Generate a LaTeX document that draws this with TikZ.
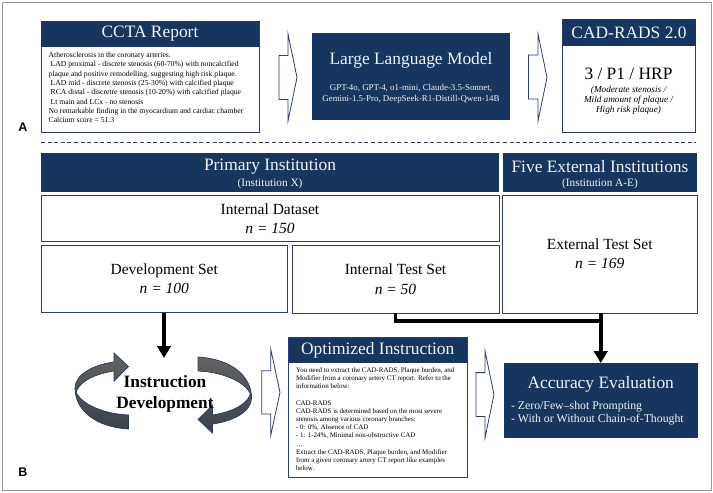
\documentclass[tikz,border=0pt]{standalone}
\usepackage{fontspec}
\setmainfont{Liberation Serif}
\newfontfamily\labelfont{Liberation Sans}
\usetikzlibrary{arrows.meta}
\definecolor{navy}{HTML}{17365F}
\definecolor{edgeblue}{HTML}{2E3A70}
\definecolor{headtext}{HTML}{F0F3F7}
\definecolor{loopedge}{HTML}{2B3A5C}
\definecolor{looplight}{HTML}{636363}
\definecolor{loopdark}{HTML}{3B424C}
\newcommand{\fs}[2]{\fontsize{#1}{#2}\selectfont}
\newcommand{\blockarrow}[7]{% x0 xhead xtip ytop yshaft1 yshaft2 ybottom
  \draw[blockarrowstyle] (#1,#5) -- (#2,#5) -- (#2,#4) -- (#3,{(#4+#7)/2}) -- (#2,#7) -- (#2,#6) -- (#1,#6) -- cycle;}
\newcommand{\looparrow}{%
  (128.5,429) .. controls (95,427) and (75,410) .. (75,388)
  .. controls (75,375) and (92,365) .. (114,362) -- (114,353) -- (128.5,366.5) -- (114,381) -- (114,371)
  .. controls (95,374) and (80,381) .. (76,392)
  .. controls (82,405) and (105,414) .. (128.5,415) -- cycle}
\tikzset{
  x=1pt,y=-1pt,
  box/.style={draw=edgeblue,line width=0.8pt,fill=white,inner sep=0pt,outer sep=0pt,anchor=north west,text=black,align=center},
  headbox/.style={fill=navy,draw=none,inner sep=0pt,outer sep=0pt,anchor=north west,text=headtext,align=center},
  plain/.style={inner sep=0pt,outer sep=0pt,align=center},
  blockarrowstyle/.style={draw=edgeblue,line width=0.8pt,fill=white,line join=miter},
  flow/.style={line width=3.6pt,draw=black},
  flowhead/.style={-{Triangle[width=13.5pt,length=12pt]}},
  title/.style={font=\fs{17.4}{19}},
  panel/.style={font=\labelfont\bfseries\fs{12.5}{14}},
  loop/.style={draw=loopedge,line width=0.7pt,top color=looplight,bottom color=loopdark},
}
\begin{document}
\begin{tikzpicture}
\useasboundingbox (0,0) rectangle (713,493);
\fill[white] (0,0) rectangle (713,493);
\draw[gray!80,line width=1pt] (2.7,2.7) rectangle (711.8,490.5);

% Panel A
\node[box,minimum width=218pt,minimum height=111pt] (ccta) at (41,21) {};
\node[headbox,minimum width=218pt,minimum height=25.5pt,title] (cctahead) at (41,21) {CCTA Report};
\node[plain,anchor=north west,align=left,font=\fs{7.65}{9.33}] (cctatext) at (48.7,52.3) {%
Atherosclerosis in the coronary arteries.\\
\hspace*{2pt}LAD proximal - discrete stenosis (60-70\%) with noncalcified\\
plaque and positive remodelling, suggesting high risk plaque.\\
\hspace*{2pt}LAD mid - discrete stenosis (25-30\%) with calcified plaque\\
\hspace*{2pt}RCA distal - discretre stenosis (10-20\%) with calcified plaque\\
\hspace*{2pt}Lt main and LCx - no stenosis\\
No remarkable finding in the myocardium and cardiac chamber\\
Calcium score = 51.3};
\blockarrow{279}{288}{297}{34}{55.5}{99.5}{121}
\node[headbox,minimum width=198.5pt,minimum height=87pt] (llm) at (311.5,33) {};
\node[plain,text=headtext,title] (llmtitle) at (411,60.7) {Large Language Model};
\node[plain,text=headtext,font=\fs{8.9}{11}] (llmtext) at (411,93.5) {GPT-4o, GPT-4, o1-mini, Claude-3.5-Sonnet,\\Gemini-1.5-Pro, DeepSeek-R1-Distill-Qwen-14B};
\blockarrow{528.5}{538}{547}{34}{55}{99}{121}
\node[box,minimum width=133pt,minimum height=113pt] (cad) at (562.5,19) {};
\node[headbox,minimum width=133pt,minimum height=27pt,title] (cadhead) at (562.5,19) {CAD-RADS 2.0};
\node[plain,font=\fs{17.4}{21}] (cadvalue) at (628.5,74) {3 / P1 / HRP};
\node[plain,font=\itshape\fs{9.2}{10}] (cadtext) at (628.5,100.7) {(Moderate stenosis /\\Mild amount of plaque /\\High risk plaque)};
\node[plain,panel] (labelA) at (23,127) {A};

\coordinate (dashL) at (41,142);
\coordinate (dashR) at (696,142);
\draw[edgeblue,line width=0.9pt,dash pattern=on 4pt off 2.6pt] (dashL) -- (dashR);

% Panel B
\node[headbox,minimum width=458pt,minimum height=39pt] (primary) at (41,153) {};
\node[plain,text=headtext,font=\fs{17.4}{19}] (primarytitle) at (270,167) {Primary Institution};
\node[plain,text=headtext,font=\fs{11.3}{13}] (primarysub) at (270,184) {(Institution X)};
\node[headbox,minimum width=194.5pt,minimum height=39pt] (external) at (502.5,153) {};
\node[plain,text=headtext,font=\fs{17.4}{19}] (externaltitle) at (600,166.5) {Five External Institutions};
\node[plain,text=headtext,font=\fs{11.3}{13}] (externalsub) at (600,184) {(Institution A-E)};

\node[box,minimum width=458pt,minimum height=46.5pt,font=\fs{15.5}{19}] (internal) at (41,195) {Internal Dataset\\\itshape n = 150};
\node[box,minimum width=246.5pt,minimum height=67.5pt,font=\fs{15.5}{19.5}] (dev) at (41,245) {Development Set\\\itshape n = 100};
\node[box,minimum width=207pt,minimum height=67.5pt,font=\fs{15.5}{19.5}] (inttest) at (292,245.5) {Internal Test Set\\\itshape n = 50};
\node[box,minimum width=194.5pt,minimum height=118pt,font=\fs{15.5}{19}] (exttest) at (502.5,195) {External Test Set\\\itshape n = 169};

\node[headbox,minimum width=194.5pt,minimum height=74.5pt] (acc) at (503.5,363) {};
\node[plain,text=headtext,title] (acctitle) at (600.7,384) {Accuracy Evaluation};
\node[plain,anchor=north west,align=left,text=headtext,font=\fs{11.8}{13.6}] (acctext) at (511,401) {- Zero/Few--shot Prompting\\- With or Without Chain-of-Thought};

\coordinate (looptop) at (164,358);
\draw[flow,flowhead] (dev.south -| looptop) -- (looptop);
\draw[flow] (inttest.south) |- (600.7,321);
\draw[flow,flowhead] (exttest.south -| acc.north) -- (acc.north);

\path[loop] \looparrow;
\begin{scope}[rotate around={180:(163.25,393)}]
\path[loop] \looparrow;
\end{scope}
\node[plain,font=\bfseries\fs{17.3}{21}] (instr) at (165,393.5) {Instruction\\Development};

\blockarrow{261.7}{270.7}{280}{349}{370.7}{414}{435.7}
\node[box,minimum width=178.5pt,minimum height=140pt] (opt) at (288.5,337.5) {};
\node[headbox,minimum width=178.5pt,minimum height=25pt,title] (opthead) at (288.5,337.5) {Optimized Instruction};
\node[plain,anchor=north west,align=left,font=\fs{6.95}{8.2}] (opttext) at (296,367.5) {%
You need to extract the CAD-RADS, Plaque burden, and\\
Modifier from a coronary artery CT report. Refer to the\\
information below:\\[8.2pt]
CAD-RADS\\
CAD-RADS is determined based on the most severe\\
stenosis among various coronary branches:\\
- 0: 0\%, Absence of CAD\\
- 1: 1-24\%, Minimal non-obstructive CAD\\
\dots\\
Extract the CAD-RADS, Plaque burden, and Modifier\\
from a given coronary artery CT report like examples\\
below.};
\blockarrow{476}{485}{494}{351}{372.6}{416.5}{438}
\node[plain,panel] (labelB) at (23,472) {B};
\end{tikzpicture}
\end{document}
